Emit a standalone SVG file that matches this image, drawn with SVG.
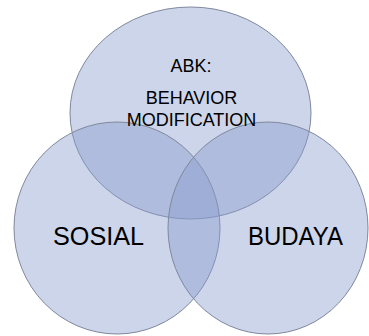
<svg xmlns="http://www.w3.org/2000/svg" width="369" height="336" viewBox="0 0 369 336">
<style>
.c{fill:#889bcd;fill-opacity:0.42;stroke:#7f889c;stroke-width:1}
.t{font-family:"Liberation Sans",Arial,sans-serif;fill:#000;text-anchor:middle}
</style>
<rect width="369" height="336" fill="#ffffff"/>
<g id="abk">
<ellipse class="c" cx="190.5" cy="113" rx="120.5" ry="106"/>
</g>
<g id="sosial">
<ellipse class="c" cx="117" cy="228" rx="103" ry="106"/>
</g>
<g id="budaya">
<ellipse class="c" cx="268" cy="228" rx="100" ry="106"/>
</g>
<g id="connectors"></g>
<g id="labels">
<text class="t" x="191" y="72" font-size="18">ABK:</text>
<text class="t" x="191.5" y="104" font-size="18">BEHAVIOR</text>
<text class="t" x="191.5" y="126" font-size="18">MODIFICATION</text>
<text class="t" x="98.5" y="245" font-size="26" textLength="91" lengthAdjust="spacingAndGlyphs">SOSIAL</text>
<text class="t" x="295.5" y="245" font-size="26" textLength="95" lengthAdjust="spacingAndGlyphs">BUDAYA</text>
</g>
</svg>
